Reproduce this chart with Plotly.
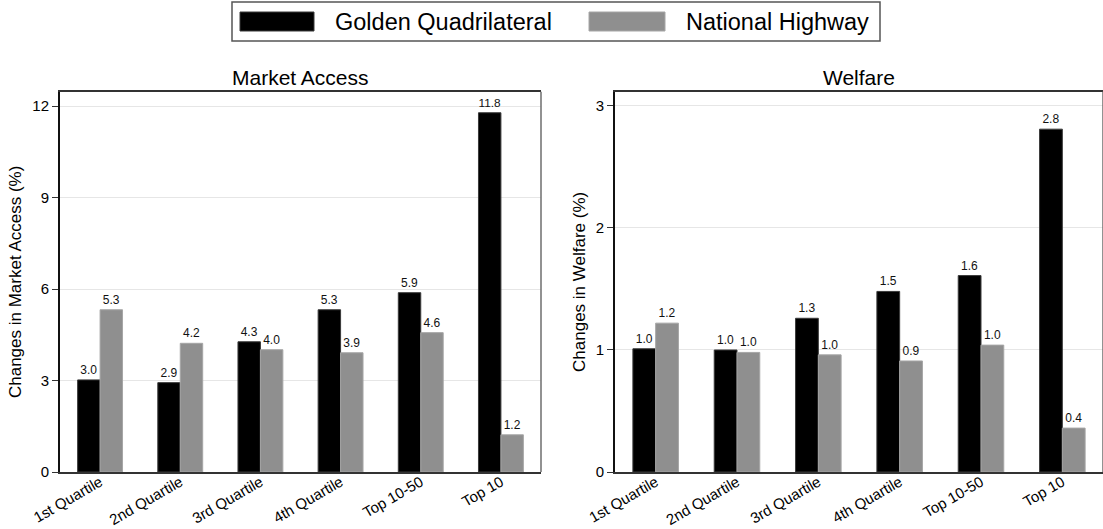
import plotly.graph_objects as go

# Categories of districts and the two road programmes
categories = ["1st Quartile", "2nd Quartile", "3rd Quartile", "4th Quartile", "Top 10-50", "Top 10"]
series_names = ["Golden Quadrilateral", "National Highway"]

# Changes in market access (%)
market_gq = [3.02, 2.93, 4.27, 5.32, 5.88, 11.78]
market_nh = [5.32, 4.22, 4.01, 3.91, 4.57, 1.22]

# Changes in welfare (%)
welfare_gq = [1.01, 1.00, 1.26, 1.48, 1.61, 2.81]
welfare_nh = [1.22, 0.98, 0.96, 0.91, 1.04, 0.36]

W, H = 1103, 529
FONT = "Liberation Sans, Arial, sans-serif"
BLACK_FILL, BLACK_LINE = "#000000", "#3a3a3a"
GRAY_FILL, GRAY_LINE = "#8f8f8f", "#a6a6a6"


def px_x(p):
    return p / W


def px_y(p):
    return 1 - p / H


fig = go.Figure()


def add_bars(values_gq, values_nh, xa, ya):
    for name, vals, fill, line in (
        (series_names[0], values_gq, BLACK_FILL, BLACK_LINE),
        (series_names[1], values_nh, GRAY_FILL, GRAY_LINE),
    ):
        fig.add_trace(go.Bar(
            x=categories, y=vals, name=name, xaxis=xa, yaxis=ya,
            marker=dict(color=fill, line=dict(color=line, width=1)),
            texttemplate="%{y:.1f}", textposition="outside",
            textfont=dict(family=FONT, size=12, color="#111111"),
            cliponaxis=False, showlegend=False,
        ))


add_bars(market_gq, market_nh, "x", "y")
add_bars(welfare_gq, welfare_nh, "x2", "y2")

y_bottom, y_top = px_y(472), px_y(91.7)

xcommon = dict(
    showline=True, linecolor="#333333", linewidth=1.5, mirror=True,
    ticks="", tickangle=-30, showgrid=False, automargin=False,
    ticklabelstandoff=-6,
    tickfont=dict(family=FONT, size=15, color="#000000"),
)
ycommon = dict(
    showline=True, linecolor="#111111", linewidth=2, ticks="outside",
    ticklen=6, tickwidth=1, tickcolor="#333333", automargin=False,
    showgrid=True, gridcolor="#e6e6e6", gridwidth=1, zeroline=False,
    tickfont=dict(family=FONT, size=15, color="#000000"),
    domain=[y_bottom, y_top],
)

fig.update_layout(
    width=W, height=H,
    margin=dict(l=0, r=0, t=0, b=0, autoexpand=False),
    paper_bgcolor="white", plot_bgcolor="white",
    barmode="group", bargap=0.44, bargroupgap=0,
    font=dict(family=FONT, color="#000000"),
    xaxis=dict(domain=[px_x(60), px_x(541)], anchor="y", **xcommon),
    yaxis=dict(anchor="x", range=[0, 12.47], tickvals=[0, 3, 6, 9, 12],
               title=dict(text="Changes in Market Access (%)", standoff=6,
                          font=dict(family=FONT, size=17)), **ycommon),
    xaxis2=dict(domain=[px_x(615), 1.0], anchor="y2", **xcommon),
    yaxis2=dict(anchor="x2", range=[0, 3.117], tickvals=[0, 1, 2, 3],
                title=dict(text="Changes in Welfare (%)", standoff=6,
                           font=dict(family=FONT, size=17)), **ycommon),
)

# Panel titles
for xa, title in (("x", "Market Access"), ("x2", "Welfare")):
    fig.add_annotation(
        text=title, xref=f"{xa} domain", yref="paper", x=0.5, y=px_y(77),
        xanchor="center", yanchor="middle", showarrow=False,
        font=dict(family=FONT, size=21, color="#000000"),
    )

# Lighter right-hand frame edge on each panel
for xa, ya in (("x", "y"), ("x2", "y2")):
    fig.add_shape(type="line", xref=f"{xa} domain", yref=f"{ya} domain",
                  x0=1, x1=1, y0=0, y1=1, line=dict(color="#6e6e6e", width=1.5))

# Legend box across the top
fig.add_shape(type="rect", xref="paper", yref="paper",
              x0=px_x(232), x1=px_x(880), y0=px_y(41), y1=px_y(2),
              line=dict(color="#555555", width=1.5), fillcolor="white")
legend_items = [
    (series_names[0], BLACK_FILL, BLACK_LINE, 240, 314, 333),
    (series_names[1], GRAY_FILL, GRAY_LINE, 589, 665, 684),
]
for name, fill, line, sx0, sx1, tx in legend_items:
    fig.add_shape(type="rect", xref="paper", yref="paper",
                  x0=px_x(sx0), x1=px_x(sx1), y0=px_y(31), y1=px_y(12),
                  line=dict(color=line, width=1), fillcolor=fill)
    fig.add_annotation(text=name, xref="paper", yref="paper",
                       x=px_x(tx), y=px_y(21.5), xanchor="left", yanchor="middle",
                       showarrow=False,
                       font=dict(family=FONT, size=23.5, color="#000000"))

fig.write_html("out.html")
